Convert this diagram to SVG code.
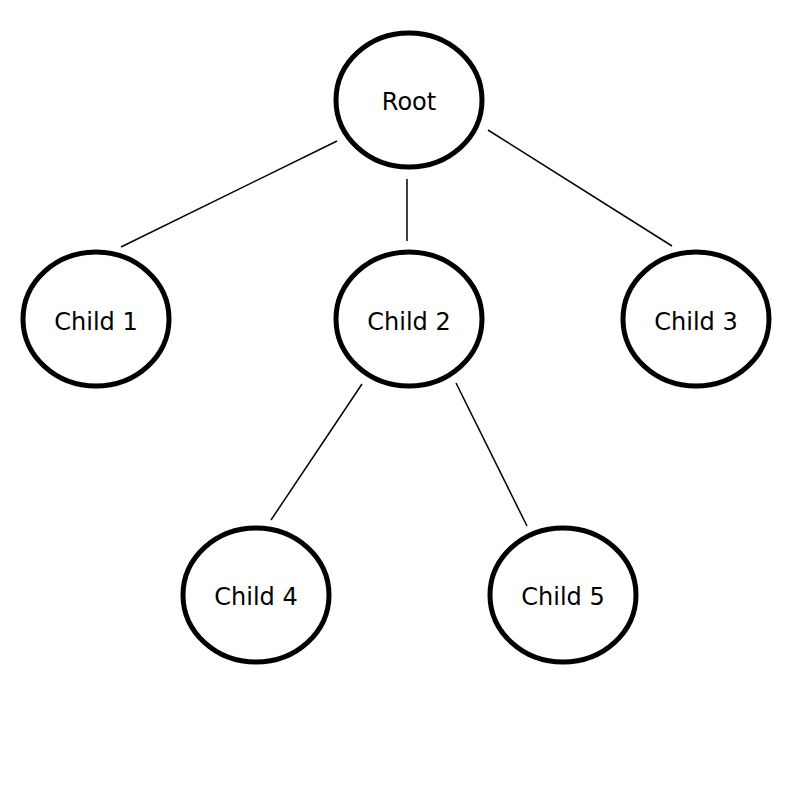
<svg xmlns="http://www.w3.org/2000/svg" width="800" height="800" viewBox="0 0 800 800">
  <style>
    .node ellipse { fill: #ffffff; stroke: #000000; stroke-width: 5; }
    .node text { font-family: "DejaVu Sans", Verdana, sans-serif; font-size: 24px; fill: #000000; text-anchor: middle; }
    .edges line { stroke: #000000; stroke-width: 1.5; }
  </style>
  <rect width="800" height="800" fill="#ffffff"/>
  <g id="edges" class="edges">
    <line x1="337" y1="141" x2="121" y2="247"/>
    <line x1="407" y1="179" x2="407" y2="241"/>
    <line x1="488" y1="130" x2="672" y2="246"/>
    <line x1="362" y1="384" x2="271" y2="520"/>
    <line x1="456" y1="383" x2="527" y2="526"/>
  </g>
  <g id="root" class="node">
    <ellipse cx="409" cy="100" rx="73" ry="67"/>
    <text x="409" y="110">Root</text>
  </g>
  <g id="child1" class="node">
    <ellipse cx="96" cy="319" rx="73" ry="67"/>
    <text x="96" y="330">Child 1</text>
  </g>
  <g id="child2" class="node">
    <ellipse cx="409" cy="319" rx="73" ry="67"/>
    <text x="409" y="330">Child 2</text>
  </g>
  <g id="child3" class="node">
    <ellipse cx="696" cy="319" rx="73" ry="67"/>
    <text x="696" y="330">Child 3</text>
  </g>
  <g id="child4" class="node">
    <ellipse cx="256" cy="595" rx="73" ry="67"/>
    <text x="256" y="605">Child 4</text>
  </g>
  <g id="child5" class="node">
    <ellipse cx="563" cy="595" rx="73" ry="67"/>
    <text x="563" y="605">Child 5</text>
  </g>
</svg>
